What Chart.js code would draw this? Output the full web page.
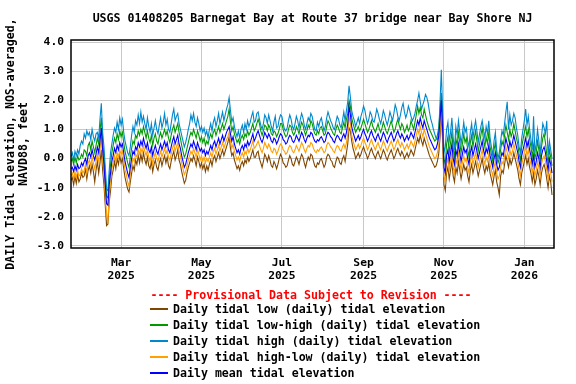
<!DOCTYPE html>
<html><head><meta charset="utf-8">
<script src="https://cdn.jsdelivr.net/npm/chart.js@4"></script>
<style>
html,body{margin:0;padding:0;background:#fff;}
#wrap{position:relative;width:576px;height:384px;overflow:hidden;}
#legend{position:absolute;left:0;top:0;width:576px;height:384px;font:bold 11.6px "DejaVu Sans Mono",monospace;pointer-events:none;}
.prov{position:absolute;left:0;width:622px;text-align:center;color:#ff0000;line-height:14px;white-space:pre;}
.row{position:absolute;left:150px;width:420px;height:14px;line-height:14px;white-space:pre;color:#000;}
.sw{position:absolute;left:0;top:6px;width:18px;height:0;border-top-width:2px;border-top-style:solid;}
.tx{position:absolute;left:23px;top:0;}
</style>
</head><body>
<div id="wrap"><canvas id="c" width="576" height="384"></canvas><div id="legend"></div></div>
<script>
const startDate = '2025-01-22';
const chartTitle = 'USGS 01408205 Barnegat Bay at Route 37 bridge near Bay Shore NJ';
const yTitle = ['DAILY Tidal elevation, NOS-averaged,', 'NAVD88, feet'];
const provisionalText = '---- Provisional Data Subject to Revision ----';
const seriesNames = [
  'Daily tidal low (daily) tidal elevation',
  'Daily tidal low-high (daily) tidal elevation',
  'Daily tidal high (daily) tidal elevation',
  'Daily tidal high-low (daily) tidal elevation',
  'Daily mean tidal elevation'
];
const seriesColors = ['#7f4600', '#009a00', '#0088cc', '#ffa000', '#0000ff'];
const xTickDates = ['2025-03-01','2025-05-01','2025-07-01','2025-09-01','2025-11-01','2026-01-01'];
const xTickLabels = [['Mar','2025'],['May','2025'],['Jul','2025'],['Sep','2025'],['Nov','2025'],['Jan','2026']];
const yTickValues = [-3, -2, -1, 0, 1, 2, 3, 4];

const lowVals = [
-0.75,-0.65,-0.9,-0.6,-0.85,-0.55,-0.8,-0.7,-0.5,-0.65,
-0.6,-0.35,-0.7,-0.4,-0.25,-0.5,-0.2,-0.45,-0.8,-0.4,
-0.1,-0.5,-0.15,0.3,-0.4,-0.9,-1.6,-2.3,-2.25,-1.5,
-1.1,-0.6,-0.4,-0.1,-0.35,0.0,-0.2,0.1,-0.15,0.0,
-0.35,-0.65,-0.85,-1.05,-1.15,-0.8,-0.5,-0.25,-0.4,-0.05,
-0.2,0.1,-0.15,0.15,-0.1,0.2,-0.05,-0.2,0.05,-0.25,
-0.35,-0.1,-0.45,-0.2,-0.05,-0.3,-0.4,-0.15,0.0,-0.25,
-0.05,0.1,-0.15,0.05,-0.25,-0.35,-0.1,0.1,0.25,-0.05,
0.1,0.3,-0.05,-0.2,-0.45,-0.65,-0.85,-0.75,-0.5,-0.3,
-0.15,0.0,-0.1,0.1,-0.05,-0.25,0.05,-0.1,-0.3,-0.15,
-0.35,-0.2,-0.45,-0.25,-0.4,-0.2,-0.05,-0.25,0.0,0.1,
-0.1,0.05,0.2,0.0,0.15,0.3,0.1,0.25,0.4,0.55,
0.75,0.35,0.1,0.2,-0.05,-0.2,-0.35,-0.25,-0.4,-0.2,
-0.1,-0.25,-0.05,-0.15,0.05,-0.1,0.0,0.15,0.3,0.05,
0.05,0.2,0.25,0.0,-0.15,-0.3,-0.1,0.15,0.05,-0.1,
0.1,-0.05,-0.25,-0.3,-0.1,-0.2,-0.35,-0.2,0.0,0.15,
0.05,-0.15,-0.2,-0.3,-0.25,-0.05,0.1,0.0,-0.2,-0.25,
-0.1,0.05,-0.05,-0.2,0.0,0.15,0.05,-0.15,-0.3,-0.1,
0.05,-0.05,0.15,0.1,-0.1,-0.25,-0.3,-0.15,-0.2,-0.05,
0.0,-0.15,-0.3,-0.2,0.05,0.15,0.1,-0.05,-0.1,-0.25,
-0.3,-0.1,0.05,0.0,-0.15,-0.2,0.0,0.1,-0.1,0.2,
0.5,1.05,0.95,0.6,0.35,0.2,0.0,0.1,0.2,0.05,
0.15,0.3,0.4,0.25,0.15,0.0,0.1,0.25,0.35,0.2,
0.1,0.0,0.15,0.25,0.1,0.0,0.15,0.3,0.2,0.05,
-0.05,0.1,0.2,0.3,0.15,0.0,0.1,0.25,0.35,0.2,
0.1,0.25,0.15,0.0,0.1,0.2,0.05,0.15,0.3,0.2,
0.1,0.3,0.5,0.7,0.55,0.8,0.6,0.45,0.7,0.55,
0.4,0.25,0.1,0.0,-0.1,-0.2,-0.3,-0.25,-0.1,0.15,
0.7,1.55,0.6,-0.9,-1.1,-0.5,-0.3,-0.7,-0.4,-0.1,
-0.6,-0.8,-0.3,-0.5,-0.1,-0.4,-0.7,-0.45,-0.2,-0.4,
-0.3,-0.6,-0.8,-0.4,-0.2,-0.5,-0.3,-0.1,-0.35,-0.6,
-0.4,-0.2,0.0,-0.3,-0.5,-0.25,-0.4,-0.15,-0.5,-0.7,
-0.9,-0.6,-0.4,-0.8,-1.0,-1.25,-0.6,-0.4,-0.5,-0.2,
0.1,-0.1,-0.3,0.0,-0.2,-0.05,0.2,0.0,-0.2,-0.4,
-0.7,-0.9,-0.5,-0.3,-0.1,0.1,-0.2,0.0,-0.3,-0.5,
-0.8,-0.5,-0.9,-0.7,-0.4,-0.6,-0.9,-0.5,-0.3,-0.2,
-0.4,-0.7,-1.0,-0.6,-0.8,-1.25
];

const lowHighVals = [
-0.1,0.0,-0.2,0.05,-0.15,0.1,-0.05,0.0,0.15,0.05,
0.3,0.25,0.1,0.45,0.55,0.3,0.6,0.4,0.2,0.45,
0.7,0.5,0.95,1.4,0.6,0.1,-0.6,-1.3,-1.35,-0.65,
-0.2,0.2,0.45,0.7,0.55,0.85,0.65,0.95,0.75,0.9,
0.55,0.25,0.05,-0.15,-0.3,0.05,0.35,0.6,0.5,0.8,
0.7,0.95,0.8,1.0,0.85,1.1,0.9,0.7,0.95,0.7,
0.55,0.8,0.45,0.7,0.85,0.6,0.5,0.75,0.9,0.7,
0.85,1.0,0.8,0.95,0.7,0.55,0.8,1.0,1.15,0.9,
1.05,1.2,0.9,0.7,0.45,0.25,0.05,0.15,0.35,0.55,
0.75,0.9,0.8,1.0,0.85,0.7,0.95,0.8,0.6,0.75,
0.55,0.7,0.45,0.6,0.5,0.7,0.85,0.7,0.9,1.0,
0.8,0.95,1.1,0.9,1.05,1.2,1.0,1.15,1.3,1.45,
1.7,1.25,0.95,1.1,0.85,0.7,0.55,0.65,0.5,0.7,
0.8,0.65,0.85,0.75,0.95,0.8,0.9,1.05,1.2,0.95,
1.05,1.2,1.35,1.2,0.95,0.8,0.95,1.15,1.1,0.95,
1.15,1.05,0.85,0.8,0.95,0.9,0.75,0.85,1.0,1.2,
1.2,1.0,0.85,0.75,0.8,1.0,1.15,1.1,0.9,0.8,
0.9,1.1,1.0,0.85,1.05,1.25,1.15,0.95,0.8,0.95,
1.15,1.05,1.3,1.2,1.0,0.85,0.8,0.95,0.85,1.05,
1.1,0.95,0.8,0.85,1.1,1.3,1.2,1.05,0.95,0.85,
0.8,1.0,1.15,1.05,0.9,0.85,1.05,1.25,1.05,1.35,
1.55,2.0,1.8,1.4,1.2,1.05,0.9,1.0,1.1,0.95,
1.05,1.2,1.35,1.2,1.05,0.9,1.0,1.15,1.3,1.1,
1.0,0.9,1.05,1.2,1.0,0.9,1.05,1.25,1.1,0.95,
0.85,1.0,1.15,1.3,1.1,0.9,1.0,1.2,1.35,1.15,
1.0,1.2,1.1,0.9,1.0,1.15,0.95,1.05,1.3,1.15,
1.0,1.25,1.5,1.8,1.55,1.75,1.5,1.4,1.7,1.5,
1.3,1.15,1.0,0.9,0.8,0.7,0.6,0.65,0.8,1.05,
1.6,2.25,1.3,0.0,-0.2,0.5,0.75,0.2,0.55,0.9,
0.35,0.05,0.7,0.45,0.9,0.55,0.2,0.5,0.85,0.55,
0.7,0.3,0.05,0.55,0.8,0.4,0.7,0.95,0.6,0.25,
0.5,0.8,1.05,0.65,0.4,0.75,0.5,0.9,0.4,0.15,
-0.1,0.3,0.55,0.05,-0.15,0.0,0.3,0.6,0.45,0.8,
1.15,0.9,0.65,1.0,0.75,0.9,1.2,0.95,0.7,0.5,
0.15,-0.05,0.4,0.65,0.9,1.1,0.75,1.0,0.65,0.4,
0.05,0.45,0.0,0.2,0.6,0.3,-0.05,0.4,0.7,0.85,
0.55,0.15,-0.15,0.3,0.05,-0.25
];

const highVals = [
0.05,0.2,-0.05,0.25,0.1,0.3,0.15,0.45,0.6,0.5,
0.85,0.7,0.95,0.8,0.9,0.65,1.0,0.75,0.6,0.85,
0.9,0.7,1.35,1.9,0.9,0.4,-0.3,-1.05,-1.1,-0.4,
0.2,0.5,0.8,1.05,0.9,1.25,1.0,1.4,1.15,1.35,
0.9,0.6,0.4,0.2,0.1,0.4,0.8,1.1,0.9,1.3,
1.15,1.5,1.2,1.6,1.25,1.45,1.2,1.0,1.4,1.1,
0.9,1.2,0.8,1.05,1.3,1.0,0.85,1.15,1.4,1.05,
1.25,1.55,1.15,1.35,1.0,0.9,1.2,1.5,1.7,1.3,
1.45,1.55,1.2,1.0,0.8,0.6,0.4,0.55,0.75,1.0,
1.2,1.5,1.3,1.55,1.25,1.1,1.4,1.2,0.95,1.1,
0.9,1.05,0.8,0.95,0.7,1.0,1.2,0.95,1.25,1.4,
1.1,1.3,1.55,1.2,1.4,1.6,1.3,1.5,1.7,1.85,
2.1,1.65,1.25,1.4,1.1,0.9,0.75,0.95,0.7,1.0,
1.15,0.9,1.2,1.0,1.3,1.1,1.25,1.45,1.6,1.25,
1.3,1.55,1.6,1.35,1.15,1.0,1.2,1.5,1.4,1.2,
1.5,1.3,1.1,0.95,1.25,1.45,1.05,1.1,1.35,1.5,
1.45,1.2,1.0,0.95,1.05,1.3,1.5,1.35,1.1,1.0,
1.2,1.45,1.3,1.05,1.35,1.55,1.4,1.15,1.0,1.2,
1.4,1.3,1.55,1.45,1.2,1.0,0.95,1.25,1.1,1.3,
1.4,1.15,0.95,1.1,1.4,1.6,1.45,1.3,1.2,1.05,
1.0,1.25,1.45,1.35,1.15,1.05,1.3,1.6,1.3,1.65,
1.95,2.5,2.1,1.65,1.45,1.3,1.1,1.25,1.4,1.2,
1.45,1.6,1.8,1.65,1.4,1.2,1.35,1.6,1.5,1.3,
1.25,1.45,1.7,1.55,1.35,1.2,1.4,1.65,1.5,1.3,
1.15,1.35,1.6,1.45,1.3,1.55,1.85,1.7,1.45,1.3,
1.5,1.75,1.9,1.6,1.4,1.55,1.8,1.65,1.45,1.3,
1.4,1.55,1.8,2.0,2.25,1.95,1.7,1.85,2.0,2.2,
2.1,1.9,1.6,1.35,1.2,1.0,0.85,0.7,0.65,0.9,
1.9,3.05,1.6,0.2,0.4,1.0,1.25,0.6,0.9,1.4,
0.7,0.3,1.1,0.8,1.3,0.9,0.5,0.85,1.25,0.9,
1.05,0.6,0.4,0.9,1.2,0.7,1.05,1.3,0.95,0.55,
0.85,1.1,1.3,1.0,0.7,1.1,0.85,1.3,0.7,0.4,
0.1,0.6,0.9,0.3,0.0,0.2,0.6,0.95,0.8,1.2,
1.6,1.95,1.0,1.5,1.15,1.3,1.55,1.4,1.05,0.8,
0.4,0.2,0.7,1.0,1.3,1.7,1.15,1.45,1.0,0.65,
0.3,1.45,0.2,0.5,1.0,0.6,0.15,0.75,1.2,1.05,
0.85,1.3,0.1,0.6,0.3,0.0
];

const highLowVals = [
-0.6,-0.5,-0.7,-0.45,-0.65,-0.4,-0.6,-0.55,-0.35,-0.5,
-0.4,-0.2,-0.5,-0.15,-0.05,-0.25,0.05,-0.15,-0.35,-0.1,
0.15,-0.1,0.3,0.75,0.0,-0.5,-1.25,-1.95,-2.15,-1.25,
-0.8,-0.35,-0.15,0.1,-0.1,0.2,0.05,0.3,0.15,0.25,
-0.05,-0.4,-0.55,-0.8,-0.95,-0.55,-0.25,0.0,-0.1,0.15,
0.05,0.3,0.15,0.35,0.2,0.45,0.25,0.1,0.3,0.05,
-0.1,0.15,-0.2,0.05,0.2,0.0,-0.1,0.1,0.25,0.05,
0.2,0.35,0.15,0.3,0.05,-0.05,0.15,0.35,0.5,0.25,
0.4,0.55,0.25,0.1,-0.15,-0.35,-0.55,-0.45,-0.25,-0.05,
0.1,0.25,0.15,0.35,0.2,0.05,0.3,0.15,-0.05,0.1,
-0.1,0.05,-0.15,0.0,-0.1,0.05,0.2,0.05,0.25,0.35,
0.15,0.3,0.45,0.25,0.4,0.55,0.35,0.5,0.65,0.75,
0.9,0.6,0.35,0.5,0.25,0.1,-0.05,0.05,-0.1,0.1,
0.2,0.05,0.25,0.15,0.35,0.2,0.3,0.45,0.6,0.35,
0.4,0.5,0.6,0.45,0.3,0.2,0.35,0.55,0.45,0.35,
0.5,0.4,0.25,0.2,0.35,0.3,0.15,0.25,0.4,0.5,
0.45,0.3,0.25,0.15,0.2,0.35,0.45,0.4,0.25,0.2,
0.3,0.45,0.35,0.25,0.4,0.55,0.45,0.3,0.2,0.35,
0.45,0.4,0.55,0.5,0.35,0.25,0.2,0.3,0.25,0.35,
0.4,0.3,0.2,0.25,0.45,0.55,0.5,0.4,0.35,0.25,
0.2,0.35,0.45,0.4,0.3,0.25,0.4,0.5,0.35,0.55,
0.85,1.45,1.2,0.8,0.6,0.45,0.3,0.4,0.5,0.35,
0.45,0.6,0.7,0.55,0.45,0.3,0.4,0.55,0.65,0.5,
0.4,0.3,0.45,0.55,0.4,0.3,0.45,0.6,0.5,0.35,
0.25,0.4,0.5,0.6,0.45,0.3,0.4,0.55,0.65,0.5,
0.4,0.55,0.45,0.3,0.4,0.5,0.35,0.45,0.6,0.5,
0.4,0.6,0.8,1.0,0.85,1.1,0.9,0.75,1.0,0.85,
0.7,0.55,0.4,0.3,0.2,0.1,0.0,0.05,0.2,0.45,
1.0,1.7,0.7,-0.6,-0.8,-0.2,0.0,-0.4,-0.1,0.2,
-0.3,-0.5,0.0,-0.2,0.2,-0.1,-0.4,-0.15,0.1,-0.1,
0.0,-0.3,-0.5,-0.1,0.1,-0.2,0.0,0.2,-0.05,-0.3,
-0.1,0.1,0.3,0.0,-0.2,0.05,-0.1,0.15,-0.2,-0.4,
-0.6,-0.3,-0.1,-0.5,-0.7,-0.6,-0.3,-0.1,-0.2,0.1,
0.4,0.2,0.0,0.3,0.1,0.25,0.5,0.3,0.1,-0.1,
-0.4,-0.6,-0.2,0.0,0.2,0.4,0.1,0.3,0.0,-0.2,
-0.5,-0.2,-0.6,-0.4,-0.1,-0.3,-0.6,-0.2,0.0,0.1,
-0.1,-0.4,-0.7,-0.3,-0.5,-0.8
];

const meanVals = [
-0.35,-0.3,-0.45,-0.25,-0.4,-0.2,-0.35,-0.3,-0.15,-0.25,
-0.1,0.0,-0.2,0.1,0.2,0.05,0.3,0.1,-0.05,0.15,
0.4,0.2,0.6,1.05,0.3,-0.2,-0.9,-1.55,-1.6,-0.9,
-0.5,-0.1,0.1,0.35,0.2,0.45,0.3,0.55,0.4,0.5,
0.2,-0.1,-0.3,-0.5,-0.65,-0.3,0.0,0.25,0.15,0.4,
0.3,0.55,0.4,0.6,0.45,0.7,0.5,0.35,0.55,0.3,
0.2,0.4,0.1,0.3,0.45,0.25,0.15,0.35,0.5,0.3,
0.45,0.6,0.4,0.55,0.3,0.2,0.4,0.6,0.75,0.5,
0.65,0.8,0.5,0.35,0.1,-0.1,-0.3,-0.2,0.0,0.2,
0.35,0.5,0.4,0.6,0.45,0.3,0.55,0.4,0.25,0.35,
0.2,0.3,0.1,0.25,0.15,0.3,0.45,0.3,0.5,0.6,
0.4,0.55,0.7,0.5,0.65,0.8,0.6,0.75,0.9,1.0,
1.1,0.85,0.6,0.75,0.5,0.35,0.2,0.3,0.15,0.35,
0.45,0.3,0.5,0.4,0.6,0.45,0.55,0.7,0.85,0.6,
0.7,0.85,0.95,0.8,0.65,0.55,0.7,0.9,0.8,0.7,
0.85,0.75,0.6,0.55,0.7,0.65,0.5,0.6,0.75,0.85,
0.8,0.65,0.6,0.5,0.55,0.7,0.8,0.75,0.6,0.55,
0.65,0.8,0.7,0.6,0.75,0.9,0.8,0.65,0.55,0.7,
0.8,0.75,0.9,0.85,0.7,0.6,0.55,0.65,0.6,0.7,
0.75,0.65,0.55,0.6,0.8,0.9,0.85,0.75,0.7,0.6,
0.55,0.7,0.8,0.75,0.65,0.6,0.75,0.85,0.7,0.9,
1.2,1.8,1.5,1.1,0.9,0.75,0.6,0.7,0.8,0.65,
0.75,0.9,1.0,0.85,0.75,0.6,0.7,0.85,0.95,0.8,
0.7,0.6,0.75,0.85,0.7,0.6,0.75,0.9,0.8,0.65,
0.55,0.7,0.8,0.9,0.75,0.6,0.7,0.85,0.95,0.8,
0.7,0.85,0.75,0.6,0.7,0.8,0.65,0.75,0.9,0.8,
0.7,0.9,1.1,1.3,1.15,1.4,1.2,1.05,1.3,1.15,
1.0,0.85,0.7,0.6,0.5,0.4,0.3,0.35,0.5,0.75,
1.3,2.0,1.0,-0.3,-0.5,0.1,0.3,-0.1,0.2,0.5,
0.0,-0.2,0.3,0.1,0.5,0.2,-0.1,0.15,0.4,0.2,
0.3,0.0,-0.2,0.2,0.4,0.1,0.3,0.5,0.25,0.0,
0.2,0.4,0.6,0.3,0.1,0.35,0.2,0.45,0.1,-0.1,
-0.3,0.0,0.2,-0.2,-0.4,-0.3,0.0,0.2,0.1,0.4,
0.7,0.5,0.3,0.6,0.4,0.55,0.8,0.6,0.4,0.2,
-0.1,-0.3,0.1,0.3,0.5,0.7,0.4,0.6,0.3,0.1,
-0.2,0.1,-0.3,-0.1,0.2,0.0,-0.3,0.1,0.3,0.4,
0.2,-0.1,-0.4,0.0,-0.2,-0.5
];

const seriesValues = [lowVals, lowHighVals, highVals, highLowVals, meanVals];
const drawOrder = [5, 4, 3, 2, 1];

const dayMs = 86400000;
const t0 = Date.parse(startDate + 'T00:00:00Z');
const dayOf = s => Math.round((Date.parse(s + 'T00:00:00Z') - t0) / dayMs);
const xTickDays = xTickDates.map(dayOf);

const monoFont = 'DejaVu Sans Mono';

const framePlugin = {
  id: 'frame',
  afterDatasetsDraw(chart) {
    const {ctx, chartArea: a} = chart;
    ctx.save();
    ctx.strokeStyle = '#000';
    ctx.lineWidth = 1.5;
    ctx.strokeRect(a.left, a.top, a.right - a.left, a.bottom - a.top);
    ctx.restore();
  }
};

new Chart(document.getElementById('c').getContext('2d'), {
  type: 'line',
  data: {
    datasets: seriesValues.map((vals, k) => ({
      label: seriesNames[k],
      data: vals.map((v, i) => ({x: i, y: v})),
      borderColor: seriesColors[k],
      backgroundColor: seriesColors[k],
      borderWidth: 1.1,
      pointRadius: 0,
      tension: 0,
      fill: false,
      order: drawOrder[k]
    }))
  },
  options: {
    responsive: false,
    animation: false,
    devicePixelRatio: 1,
    parsing: false,
    layout: {padding: {left: 0, right: 22, top: 0, bottom: 96}},
    plugins: {
      legend: {display: false},
      tooltip: {enabled: false},
      title: {
        display: true,
        text: chartTitle,
        fullSize: false,
        color: '#000',
        font: {family: monoFont, weight: 'bold', size: 11.6, lineHeight: 1.2},
        padding: {top: 12.3, bottom: 13.78}
      }
    },
    scales: {
      x: {
        type: 'linear',
        min: 0,
        max: 366.5,
        afterBuildTicks: s => { s.ticks = xTickDays.map(v => ({value: v})); },
        afterFit: s => { s.height = 40; },
        ticks: {
          callback: v => xTickLabels[xTickDays.indexOf(v)],
          color: '#000',
          font: {family: monoFont, weight: 'bold', size: 11.3, lineHeight: 1.1},
          padding: 9,
          maxRotation: 0,
          autoSkip: false
        },
        grid: {color: '#c8c8c8', lineWidth: 1, drawTicks: false},
        border: {display: false}
      },
      y: {
        min: -3.07,
        max: 4.07,
        afterBuildTicks: s => { s.ticks = yTickValues.map(v => ({value: v})); },
        afterFit: s => { s.width = 71; },
        ticks: {
          callback: v => v.toFixed(1),
          color: '#000',
          font: {family: monoFont, weight: 'bold', size: 11.3},
          padding: 7
        },
        grid: {color: '#c8c8c8', lineWidth: 1, drawTicks: false},
        border: {display: false},
        title: {
          display: true,
          text: yTitle,
          color: '#000',
          font: {family: monoFont, weight: 'bold', size: 11.6, lineHeight: 1.12},
          padding: {top: 4.5, bottom: 0}
        }
      }
    }
  },
  plugins: [framePlugin]
});

// HTML legend built from the series arrays
const lg = document.getElementById('legend');
const prov = document.createElement('div');
prov.className = 'prov';
prov.style.top = (295 - 7) + 'px';
prov.textContent = provisionalText;
lg.appendChild(prov);
const rowCenters = [309, 325, 341, 357, 373];
seriesNames.forEach((name, k) => {
  const r = document.createElement('div');
  r.className = 'row';
  r.style.top = (rowCenters[k] - 7) + 'px';
  const sw = document.createElement('div');
  sw.className = 'sw';
  sw.style.borderTopColor = seriesColors[k];
  const tx = document.createElement('div');
  tx.className = 'tx';
  tx.textContent = name;
  r.appendChild(sw);
  r.appendChild(tx);
  lg.appendChild(r);
});
</script>
</body></html>
